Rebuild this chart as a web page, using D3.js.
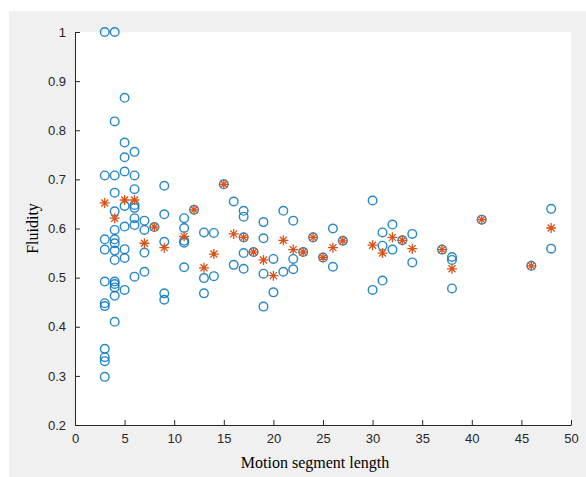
<!DOCTYPE html>
<meta charset="utf-8">
<script src="https://d3js.org/d3.v7.min.js"></script>
<style>
  body { margin: 0; background: #fff; }
  text { font-family: "Liberation Sans", Arial, sans-serif; }
</style>
<div id="screen"></div>
<script>

  // blue circles: segment length and fluidity of each motion
  var circleX = [3,3,3,3,3,3,3,3,3,3,3,
                 4,4,4,4,4,4,4,4,4,4,4,4,4,4,4,
                 5,5,5,5,5,5,5,5,5,
                 6,6,6,6,6,6,6,6,
                 7,7,7,7, 8,
                 9,9,9,9,9,
                 11,11,11,11,11, 12,
                 13,13,13, 14,14, 15, 16,16,
                 17,17,17,17,17, 18,
                 19,19,19,19, 20,20, 21,21, 22,22,22,
                 23, 24, 25, 26,26, 27,
                 30,30, 31,31,31, 32,32, 33, 34,34,
                 37, 38,38,38, 41, 46, 48,48];
  var circleY = [1.0,0.708,0.578,0.557,0.492,0.448,0.442,0.355,0.338,0.330,0.298,
                 1.0,0.818,0.708,0.673,0.635,0.597,0.578,0.570,0.555,0.536,0.492,0.487,0.480,0.463,0.410,
                 0.866,0.775,0.745,0.716,0.646,0.604,0.558,0.540,0.475,
                 0.756,0.708,0.680,0.648,0.642,0.621,0.607,0.502,
                 0.616,0.597,0.551,0.512, 0.603,
                 0.687,0.629,0.573,0.468,0.455,
                 0.621,0.601,0.575,0.571,0.521, 0.638,
                 0.592,0.499,0.468, 0.591,0.503, 0.690, 0.655,0.526,
                 0.636,0.624,0.582,0.550,0.518, 0.552,
                 0.613,0.580,0.508,0.441, 0.538,0.470, 0.636,0.512, 0.616,0.538,0.517,
                 0.552, 0.582, 0.541, 0.600,0.522, 0.575,
                 0.657,0.475, 0.592,0.565,0.494, 0.608,0.557, 0.576, 0.589,0.531,
                 0.557, 0.542,0.536,0.478, 0.618, 0.524, 0.640,0.559];

  // orange asterisks: one per segment length
  var starX = [3,4,5,6,7,8,9,11,12,13,14,15,16,17,18,19,20,21,22,23,24,25,26,27,
               30,31,32,33,34,37,38,41,46,48];
  var starY = [0.652,0.621,0.658,0.658,0.570,0.603,0.561,0.584,0.638,0.520,0.548,0.690,
               0.589,0.582,0.552,0.536,0.504,0.576,0.557,0.552,0.582,0.541,0.561,0.575,
               0.566,0.550,0.582,0.576,0.559,0.557,0.518,0.618,0.524,0.601];

  var xTicks = [0,5,10,15,20,25,30,35,40,45,50];
  var yTicks = [0.2,0.3,0.4,0.5,0.6,0.7,0.8,0.9,1];

  var W = 586, H = 477;
  var margin = {top: 32, right: 15, bottom: 52, left: 75};
  var width = W - margin.left - margin.right,
      height = H - margin.top - margin.bottom;

  var svg = d3.select("#screen")
      .append("svg")
      .attr("width", W)
      .attr("height", H);

  // figure background
  svg.append("rect")
      .attr("x", 9).attr("y", 11)
      .attr("width", W - 9).attr("height", H - 11)
      .attr("fill", "#f0f0f0");

  var g = svg.append("g")
      .attr("transform", "translate(" + margin.left + "," + margin.top + ")");

  g.append("rect")
      .attr("width", width).attr("height", height)
      .attr("fill", "#fff");

  var x = d3.scaleLinear().domain([0, 50]).range([0, width]);
  var y = d3.scaleLinear().domain([0.2, 1]).range([height, 0]);

  var axisColor = "#262626";

  var xAxis = g.append("g")
      .attr("transform", "translate(0," + height + ")")
      .call(d3.axisBottom(x).tickValues(xTicks).tickFormat(d3.format("d"))
            .tickSizeInner(-5).tickSizeOuter(0).tickPadding(9));
  var yAxis = g.append("g")
      .call(d3.axisLeft(y).tickValues(yTicks).tickFormat(function(d){ return d3.format("")(+d.toFixed(1)); })
            .tickSizeInner(-5).tickSizeOuter(0).tickPadding(9));

  [xAxis, yAxis].forEach(function(a){
      a.select(".domain").attr("stroke", axisColor);
      a.selectAll(".tick line").attr("stroke", axisColor);
      a.selectAll(".tick text")
          .attr("fill", axisColor)
          .style("font-family", "'Liberation Sans', Arial, sans-serif")
          .style("font-size", "13px");
  });

  // circles
  g.append("g").selectAll("circle")
      .data(d3.range(circleX.length))
      .enter().append("circle")
      .attr("cx", function(i){ return x(circleX[i]); })
      .attr("cy", function(i){ return y(circleY[i]); })
      .attr("r", 4.3)
      .attr("fill", "none")
      .attr("stroke", "#0072BD")
      .attr("stroke-width", 1.4)
      .attr("stroke-opacity", 0.85);

  // asterisks
  var star = "M-5,0H5M0,-5V5M-3.5,-3.5L3.5,3.5M-3.5,3.5L3.5,-3.5";
  g.append("g").selectAll("path")
      .data(d3.range(starX.length))
      .enter().append("path")
      .attr("transform", function(i){ return "translate(" + x(starX[i]) + "," + y(starY[i]) + ")"; })
      .attr("d", star)
      .attr("fill", "none")
      .attr("stroke", "#D95319")
      .attr("stroke-width", 1.3);

  // axis labels
  svg.append("text")
      .attr("x", margin.left + width / 2 - 8)
      .attr("y", 468)
      .attr("text-anchor", "middle")
      .style("font-family", "'Liberation Serif', 'Times New Roman', serif")
      .style("font-size", "16px")
      .attr("fill", "#000")
      .text("Motion segment length");

  svg.append("text")
      .attr("transform", "translate(38," + (margin.top + height / 2) + ") rotate(-90)")
      .attr("text-anchor", "middle")
      .style("font-family", "'Liberation Serif', 'Times New Roman', serif")
      .style("font-size", "16px")
      .attr("fill", "#000")
      .text("Fluidity");

</script>
